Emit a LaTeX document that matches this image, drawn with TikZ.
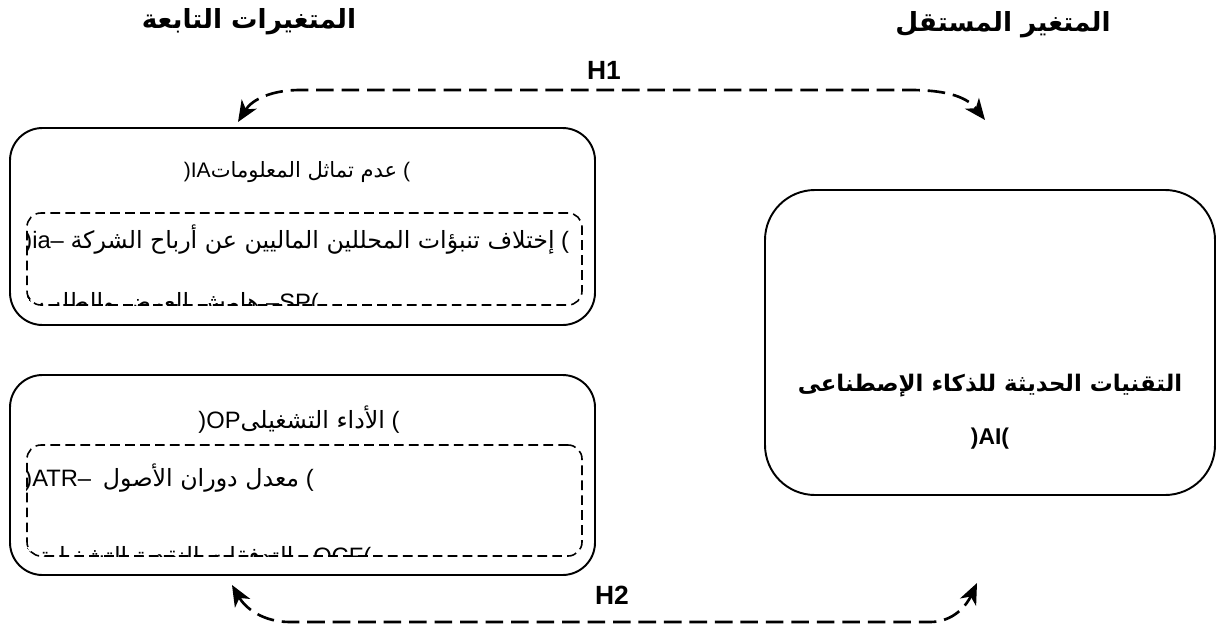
\documentclass[tikz,border=0pt]{standalone}
\usepackage{fontspec}
\setmainfont{Liberation Sans}
\newfontfamily\arabicfont[Script=Arabic]{DejaVu Sans}
\TeXXeTstate=1
\usetikzlibrary{arrows.meta}
\newcommand{\artxt}[1]{{\arabicfont\beginR #1\endR}}

\begin{document}
\begin{tikzpicture}[
		varbox/.style={draw, line width=1.1pt, rounded corners=0.65cm},
		subbox/.style={draw, line width=0.9pt, dash pattern=on 5.5pt off 3pt, rounded corners=0.28cm},
		hyp/.style={line width=1.5pt, dash pattern=on 10pt off 4.5pt,
			{Stealth[length=12pt,width=10pt,inset=3.5pt]}-{Stealth[length=12pt,width=10pt,inset=3.5pt]}},
		txt/.style={font=\fontsize{13.5}{16}\selectfont, inner sep=0pt},
		head/.style={font=\fontsize{15}{18}\selectfont\bfseries, inner sep=0pt},
	]

		\useasboundingbox (0,0) rectangle (24.6,12.6);
		%\draw[step=1cm,gray,very thin] (0,0) grid (24.6,12.6);

		% column headings and hypotheses
		\node[head] (dephead) at (4.98,12.16) {\artxt{المتغيرات التابعة}};
		\node[head] (indhead) at (20.06,12.1) {\artxt{المتغير المستقل}};
		\node[head] (h1) at (12.08,11.2) {H1};
		\node[head] (h2) at (12.24,0.7) {H2};

		% dependent variable 1
		\node[varbox, minimum width=11.7cm, minimum height=3.94cm] (ia) at (6.05,8.07) {};
		\node[subbox, minimum width=11.1cm, minimum height=1.84cm] (iasub) at (6.09,7.42) {};
		\node[txt, font=\fontsize{12}{15}\selectfont] (iatitle) at (5.94,9.16) {)IA\artxt{عدم تماثل المعلومات} (};
		\begin{scope}
			\clip[rounded corners=0.28cm] (iasub.south west) rectangle (iasub.north east);
			\node[txt, anchor=west] (ialine1) at (0.48,7.8) {)ia– \artxt{إختلاف تنبؤات المحللين الماليين عن أرباح الشركة} (};
			\node[txt, anchor=west] (ialine2) at (0.48,6.52) {) \artxt{هامش العرض والطلب} –SP(};
		\end{scope}

		% dependent variable 2
		\node[varbox, minimum width=11.7cm, minimum height=4cm] (op) at (6.05,3.1) {};
		\node[subbox, minimum width=11.1cm, minimum height=2.22cm] (opsub) at (6.09,2.59) {};
		\node[txt] (optitle) at (5.98,4.2) {)OP\artxt{الأداء التشغيلى} (};
		\begin{scope}
			\clip[rounded corners=0.28cm] (opsub.south west) rectangle (opsub.north east);
			\node[txt, anchor=west] (opline1) at (0.48,3.04) {)ATR–\hspace{0.5em}\artxt{معدل دوران الأصول} (};
			\node[txt, anchor=west] (opline2) at (0.48,1.44) {) \artxt{التدفقات النقدية التشغيلية} –OCF(};
		\end{scope}

		% independent variable
		\node[varbox, rounded corners=1cm, minimum width=9cm, minimum height=6.1cm] (ai) at (19.8,5.75) {};
		\node[txt, font=\fontsize{13}{16}\selectfont\bfseries, align=center] (aitxt) at (19.8,4.37)
			{\artxt{التقنيات الحديثة للذكاء الإصطناعى}\\[0.5cm])AI(};

		% hypothesis arrows
		\coordinate (h1a) at (4.76,10.16);
		\coordinate (h1b) at (19.7,10.2);
		\coordinate (h2a) at (4.64,0.9);
		\coordinate (h2b) at (19.54,0.94);
		\draw[hyp] (h1a) to[out=58,in=180] (6.0,10.8) -- (18.2,10.8) to[out=0,in=128] (h1b);
		\draw[hyp] (h2a) to[out=-60,in=180] (5.8,0.16) -- (18.6,0.16) to[out=0,in=-115] (h2b);

	\end{tikzpicture}
\end{document}
